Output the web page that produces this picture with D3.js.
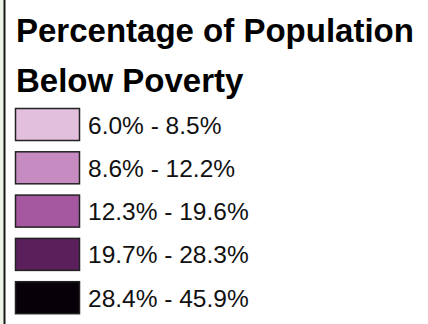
<!DOCTYPE html>
<html>
<head>
<meta charset="utf-8">
<script src="https://cdn.jsdelivr.net/npm/d3@7"></script>
<style>
  html, body { margin: 0; padding: 0; background: white; }
  svg { display: block; }
</style>
</head>
<body>
<svg id="legend"></svg>
<script>
// legend data
var titleLines = ["Percentage of Population", "Below Poverty"];
var classLabels = ["6.0% - 8.5%", "8.6% - 12.2%", "12.3% - 19.6%", "19.7% - 28.3%", "28.4% - 45.9%"];
var classColors = ["#e2bfdd", "#c68bc0", "#a5579f", "#5b1f5b", "#080008"];

var width = 428, height = 324;

var svg = d3.select("#legend")
    .attr("width", width)
    .attr("height", height)
    .style("font-family", "'Liberation Sans', Arial, sans-serif");

// page edge to the left of the box
svg.append("rect")
    .attr("x", 0).attr("y", 0)
    .attr("width", 4).attr("height", height)
    .attr("fill", "#eef4e6");

svg.append("line")
    .attr("x1", 4.5).attr("x2", 4.5)
    .attr("y1", 0).attr("y2", height)
    .attr("stroke", "#1a1a1a")
    .attr("stroke-width", 2);

// title
svg.append("g")
    .selectAll("text")
    .data(titleLines)
    .join("text")
    .attr("x", 16)
    .attr("y", (d, i) => 42 + i * 50)
    .attr("font-size", 33)
    .attr("font-weight", "bold")
    .attr("fill", "#000")
    .text(d => d);

// rows: 32px swatches, 43.3px apart
var swatchH = 32, rowStep = 43.3;
var rowScale = d3.scaleBand()
    .domain(d3.range(classLabels.length))
    .range([108, 108 + rowStep * (classLabels.length - 1) + swatchH])
    .paddingInner((rowStep - swatchH) / rowStep)
    .paddingOuter(0);

var rows = svg.append("g")
    .selectAll("g")
    .data(classLabels)
    .join("g")
    .attr("transform", (d, i) => `translate(0,${rowScale(i)})`);

rows.append("rect")
    .attr("x", 15.5)
    .attr("y", 0.5)
    .attr("width", 64)
    .attr("height", rowScale.bandwidth())
    .attr("fill", (d, i) => classColors[i])
    .attr("stroke", "#222")
    .attr("stroke-width", 1.5);

rows.append("text")
    .attr("x", 88)
    .attr("y", rowScale.bandwidth() / 2 + 1)
    .attr("dominant-baseline", "central")
    .attr("font-size", 24.5)
    .attr("fill", "#111")
    .text(d => d);
</script>
</body>
</html>
